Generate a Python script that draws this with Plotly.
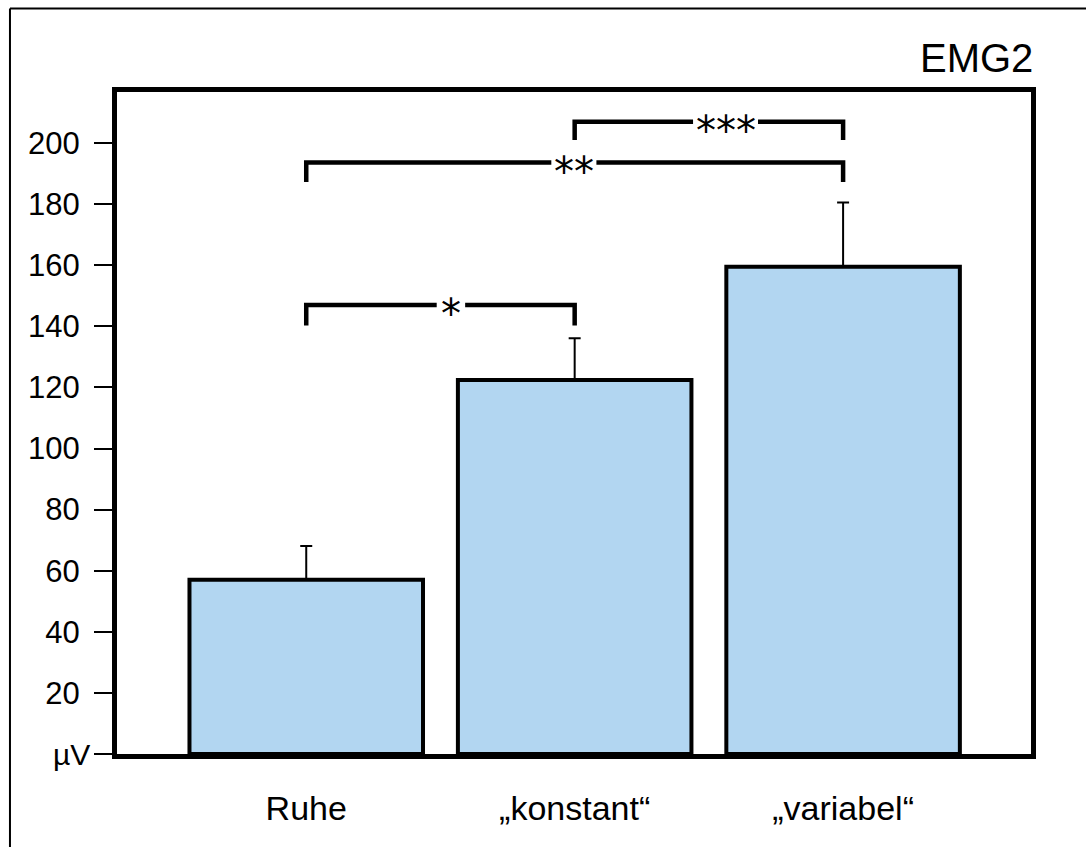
import plotly.graph_objects as go

# Mean EMG amplitude per condition (µV) with upper error bars
categories = ["Ruhe", "„konstant“", "„variabel“"]
means = [57.0, 122.4, 159.5]
errors = [11.1, 13.7, 21.0]

# Y axis ticks
y_tickvals = [0, 20, 40, 60, 80, 100, 120, 140, 160, 180, 200]
y_ticktext = ["", "20", "40", "60", "80", "100", "120", "140", "160", "180", "200"]

# Significance brackets between conditions
bracket_left = [0, 0, 1]
bracket_right = [1, 2, 2]
bracket_top = [147.0, 193.6, 207.0]
bracket_foot = [140.3, 187.2, 201.0]
bracket_text = ["*", "**", "***"]
bracket_text_x = [0.539, 0.997, 1.562]
bracket_gap = [0.053, 0.084, 0.121]

x_pos = list(range(len(categories)))

fig = go.Figure()
fig.add_trace(go.Bar(
    x=x_pos,
    y=means,
    width=0.87,
    marker=dict(color="#B2D6F1", line=dict(color="black", width=4)),
    error_y=dict(type="data", array=errors, arrayminus=[0] * len(errors),
                 symmetric=False, thickness=2, width=6, color="black"),
    showlegend=False,
))

shapes = []
annotations = []
for xl, xr, yt, yf, txt, tx, gap in zip(bracket_left, bracket_right, bracket_top,
                                         bracket_foot, bracket_text, bracket_text_x,
                                         bracket_gap):
    shapes.append(dict(type="path", xref="x", yref="y",
                       path=f"M {xl},{yf} L {xl},{yt} L {tx - gap},{yt}",
                       line=dict(color="black", width=4.5)))
    shapes.append(dict(type="path", xref="x", yref="y",
                       path=f"M {tx + gap},{yt} L {xr},{yt} L {xr},{yf}",
                       line=dict(color="black", width=4.5)))
    annotations.append(dict(x=tx, y=yt, xref="x", yref="y", text=txt,
                            showarrow=False, xanchor="center", yanchor="middle",
                            yshift=-9,
                            font=dict(family="DejaVu Sans", size=40, color="black")))

# Outer frame (left and top edges)
shapes.append(dict(type="line", xref="paper", yref="paper",
                   x0=-0.1171, x1=-0.1171, y0=1.1261, y1=-0.1405,
                   line=dict(color="black", width=2)))
shapes.append(dict(type="line", xref="paper", yref="paper",
                   x0=-0.1171, x1=1.0602, y0=1.1261, y1=1.1261,
                   line=dict(color="black", width=2)))

# Unit label at the zero tick
annotations.append(dict(x=-0.0274, y=0, xref="paper", yref="y", text="µV",
                        showarrow=False, xanchor="right", yanchor="middle",
                        font=dict(family="Liberation Sans, Arial", size=30, color="black")))
# Panel title
annotations.append(dict(x=1.0044, y=1.051, xref="paper", yref="paper", text="EMG2",
                        showarrow=False, xanchor="right", yanchor="middle",
                        font=dict(family="Liberation Sans, Arial", size=40, color="black")))

fig.update_layout(
    width=1086, height=847,
    margin=dict(l=117, r=55, t=92, b=93, pad=0),
    paper_bgcolor="white", plot_bgcolor="white",
    shapes=shapes, annotations=annotations,
    xaxis=dict(range=[-0.705, 2.70], tickvals=x_pos, ticktext=categories,
               showline=True, linewidth=5, linecolor="black", mirror=True,
               ticks="", showgrid=False, zeroline=False, ticklabelstandoff=20,
               tickfont=dict(family="Liberation Sans, Arial", size=34, color="black")),
    yaxis=dict(range=[0, 216.7], tickvals=y_tickvals, ticktext=y_ticktext,
               showline=True, linewidth=5, linecolor="black", mirror=True,
               ticks="outside", ticklen=18, tickwidth=2, tickcolor="black",
               showgrid=False, zeroline=False, ticklabelstandoff=8,
               tickfont=dict(family="Liberation Sans, Arial", size=31, color="black")),
)

fig.write_html("out.html")
